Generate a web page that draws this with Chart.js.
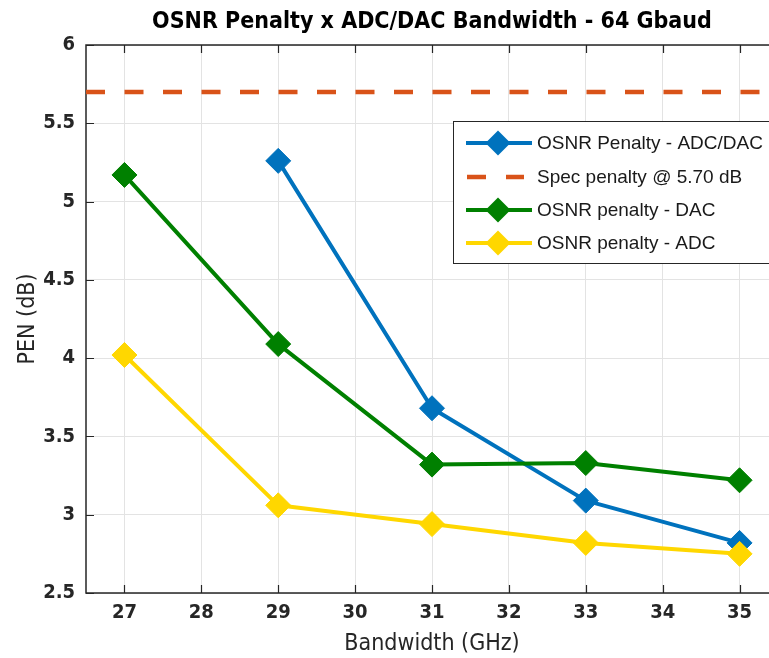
<!DOCTYPE html>
<html>
<head>
<meta charset="utf-8">
<script src="https://cdn.jsdelivr.net/npm/chart.js@4/dist/chart.umd.min.js"></script>
<style>
  html, body { margin: 0; padding: 0; background: #fff; overflow: hidden; }
  #wrap { width: 800px; height: 658px; }
</style>
</head>
<body>
<div id="wrap"><canvas id="c" width="800" height="658"></canvas></div>
<script>
// ---- data ----
const bandwidth = [27, 29, 31, 33, 35];
const penAdcDac = [null, 5.26, 3.68, 3.09, 2.82];
const penDac    = [5.17, 4.09, 3.32, 3.33, 3.22];
const penAdc    = [4.02, 3.06, 2.94, 2.82, 2.75];
const specPenalty = 5.70;
const xTicks = [27, 28, 29, 30, 31, 32, 33, 34, 35];
const yTicks = [2.5, 3, 3.5, 4, 4.5, 5, 5.5, 6];
const xMin = 26.5, xMax = 35.5, yMin = 2.5, yMax = 6;
const titleText = 'OSNR Penalty x ADC/DAC Bandwidth - 64 Gbaud';
const xTitle = 'Bandwidth (GHz)';
const yTitle = 'PEN (dB)';
const legendLabels = ['OSNR Penalty - ADC/DAC', 'Spec penalty @ 5.70 dB', 'OSNR penalty - DAC', 'OSNR penalty - ADC'];

const NARROW = '"Liberation Sans Narrow", "Arial Narrow", "DejaVu Sans Condensed", sans-serif';
const AXC = '#262626';
const C_BLUE = '#0072BD', C_ORANGE = '#D95319', C_GREEN = '#008000', C_YELLOW = '#FFD700';

function pts(xs, ys) {
  const out = [];
  xs.forEach((x, i) => { if (ys[i] !== null) out.push({ x: x, y: ys[i] }); });
  return out;
}

const lineDs = (label, data, color, order) => ({
  label, data, order,
  borderColor: color, backgroundColor: color,
  borderWidth: 4, pointStyle: 'rectRot', pointRadius: 12.5,
  pointBorderWidth: 1, pointBorderColor: color, pointBackgroundColor: color,
  tension: 0, fill: false
});

const datasets = [
  lineDs(legendLabels[0], pts(bandwidth, penAdcDac), C_BLUE, 3),
  {
    label: legendLabels[1], order: 2,
    data: [{ x: xMin, y: specPenalty }, { x: xMax, y: specPenalty }],
    borderColor: C_ORANGE, backgroundColor: C_ORANGE, borderWidth: 4.5,
    borderDash: [19, 19.5], pointRadius: 0, fill: false
  },
  lineDs(legendLabels[2], pts(bandwidth, penDac), C_GREEN, 1),
  lineDs(legendLabels[3], pts(bandwidth, penAdc), C_YELLOW, 0)
];

const decor = {
  id: 'decor',
  beforeDatasetsDraw(chart) {
    const { ctx, chartArea: a, scales } = chart;
    ctx.save();
    ctx.strokeStyle = AXC;
    ctx.lineWidth = 1.2;
    const tl = 8;
    ctx.beginPath();
    xTicks.forEach(v => {
      const px = Math.round(scales.x.getPixelForValue(v)) + 0.5;
      ctx.moveTo(px, a.bottom); ctx.lineTo(px, a.bottom - tl);
      ctx.moveTo(px, a.top); ctx.lineTo(px, a.top + tl);
    });
    yTicks.forEach(v => {
      const py = Math.round(scales.y.getPixelForValue(v)) + 0.5;
      ctx.moveTo(a.left, py); ctx.lineTo(a.left + tl, py);
      ctx.moveTo(a.right, py); ctx.lineTo(a.right - tl, py);
    });
    ctx.stroke();
    ctx.lineWidth = 1.5;
    ctx.strokeRect(a.left, a.top, a.right - a.left, a.bottom - a.top);
    ctx.restore();
  },
  afterDraw(chart) {
    const { ctx, chartArea: a } = chart;
    ctx.save();
    // title
    ctx.fillStyle = '#000';
    ctx.font = 'bold 23px ' + NARROW;
    ctx.textAlign = 'center';
    ctx.textBaseline = 'middle';
    ctx.fillText(titleText, (a.left + a.right) / 2, 22);
    // legend
    const bx = 453, by = 121, bw = 330, bh = 142;
    ctx.fillStyle = '#fff';
    ctx.fillRect(bx, by, bw, bh);
    ctx.strokeStyle = '#262626';
    ctx.lineWidth = 1;
    ctx.strokeRect(bx + 0.5, by + 0.5, bw, bh);
    const rows = [143, 177, 210, 243];
    const cols = [C_BLUE, C_ORANGE, C_GREEN, C_YELLOW];
    ctx.font = '19px "Liberation Sans", Arial, sans-serif';
    ctx.textAlign = 'left';
    rows.forEach((y, i) => {
      ctx.strokeStyle = cols[i];
      ctx.fillStyle = cols[i];
      if (i === 1) {
        ctx.lineWidth = 4.5;
        ctx.beginPath();
        ctx.moveTo(467, y); ctx.lineTo(486, y);
        ctx.moveTo(506, y); ctx.lineTo(524, y);
        ctx.stroke();
      } else {
        ctx.lineWidth = 4;
        ctx.beginPath();
        ctx.moveTo(466, y); ctx.lineTo(532, y);
        ctx.stroke();
        const r = 12.5, cx = 498;
        ctx.beginPath();
        ctx.moveTo(cx - r, y); ctx.lineTo(cx, y - r); ctx.lineTo(cx + r, y); ctx.lineTo(cx, y + r);
        ctx.closePath();
        ctx.fill();
      }
      ctx.fillStyle = '#1a1a1a';
      ctx.fillText(legendLabels[i], 537, y + 1);
    });
    ctx.restore();
  }
};

new Chart(document.getElementById('c'), {
  type: 'line',
  data: { datasets },
  options: {
    responsive: false,
    animation: false,
    layout: { padding: { top: 45, right: 22, left: 0, bottom: 0 } },
    plugins: { legend: { display: false }, title: { display: false }, tooltip: { enabled: false } },
    elements: { line: { borderCapStyle: 'butt', borderJoinStyle: 'round' } },
    scales: {
      x: {
        type: 'linear', min: xMin, max: xMax,
        afterBuildTicks: s => { s.ticks = xTicks.map(v => ({ value: v })); },
        afterFit: s => { s.height = 65; },
        grid: { color: '#e3e3e3', lineWidth: 1, drawTicks: false },
        border: { display: false },
        ticks: { color: AXC, font: { family: NARROW, size: 20, weight: 'bold' }, padding: 8, maxRotation: 0, autoSkip: false,
                 callback: v => String(v) },
        title: { display: true, text: xTitle, color: AXC, font: { family: NARROW, size: 23 }, padding: { top: 0, bottom: 0 } }
      },
      y: {
        type: 'linear', min: yMin, max: yMax,
        afterBuildTicks: s => { s.ticks = yTicks.map(v => ({ value: v })); },
        afterFit: s => { s.width = 86; },
        grid: { color: '#e3e3e3', lineWidth: 1, drawTicks: false },
        border: { display: false },
        ticks: { color: AXC, font: { family: NARROW, size: 20, weight: 'bold' }, padding: 11, autoSkip: false,
                 callback: v => String(v) },
        title: { display: true, text: yTitle, color: AXC, font: { family: NARROW, size: 23 }, padding: { top: 14, bottom: 0 } }
      }
    }
  },
  plugins: [decor]
});
</script>
</body>
</html>
